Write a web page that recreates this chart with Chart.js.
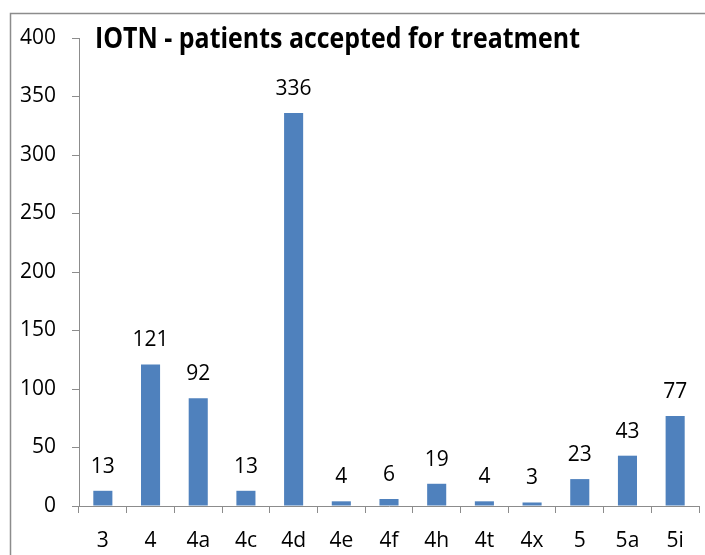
<!DOCTYPE html>
<html>
<head>
<meta charset="utf-8">
<script src="https://cdn.jsdelivr.net/npm/chart.js@4"></script>
<style>
  html, body { margin: 0; padding: 0; background: #fff; }
  #wrap { width: 705px; height: 555px; }
</style>
</head>
<body>
<div id="wrap"><canvas id="canvas" width="705" height="555"></canvas></div>
<script>
var categories = ['3', '4', '4a', '4c', '4d', '4e', '4f', '4h', '4t', '4x', '5', '5a', '5i'];
var patients = [13, 121, 92, 13, 336, 4, 6, 19, 4, 3, 23, 43, 77];
var yTicks = [0, 50, 100, 150, 200, 250, 300, 350, 400];
var chartTitle = 'IOTN - patients accepted for treatment';

// frame + title + value labels
var extras = {
  id: 'extras',
  beforeDraw: function(chart) {
    var ctx = chart.ctx;
    ctx.save();
    ctx.strokeStyle = '#8c8c8c';
    ctx.lineWidth = 1.5;
    ctx.beginPath();
    ctx.moveTo(10.5, 555);
    ctx.lineTo(10.5, 13.5);
    ctx.lineTo(705, 13.5);
    ctx.stroke();
    ctx.restore();
  },
  afterDraw: function(chart) {
    var ctx = chart.ctx;
    ctx.save();
    ctx.fillStyle = '#000';
    ctx.font = 'bold 29px "Open Sans"';
    ctx.textBaseline = 'alphabetic';
    var w = ctx.measureText(chartTitle).width;
    ctx.translate(95, 48);
    ctx.scale(485 / w, 1);
    ctx.fillText(chartTitle, 0, 0);
    ctx.restore();

    ctx.save();
    ctx.font = '21px "Open Sans"';
    ctx.fillStyle = '#000';
    ctx.textAlign = 'center';
    ctx.textBaseline = 'middle';
    var meta = chart.getDatasetMeta(0);
    meta.data.forEach(function(bar, i) {
      ctx.fillText(patients[i], bar.x, bar.y - 24);
    });
    ctx.restore();
  }
};

var config = {
  type: 'bar',
  data: {
    labels: categories,
    datasets: [{
      data: patients,
      backgroundColor: '#4f81bd',
      borderWidth: 0,
      barPercentage: 0.4,
      categoryPercentage: 1
    }]
  },
  options: {
    responsive: false,
    animation: false,
    layout: { padding: { top: 38, right: 6, left: 0, bottom: 0 } },
    plugins: {
      legend: { display: false },
      title: { display: false },
      tooltip: { enabled: false }
    },
    scales: {
      x: {
        grid: { drawOnChartArea: false, drawTicks: true, tickLength: 7, color: '#8c8c8c', offset: true },
        border: { color: '#8c8c8c', width: 1 },
        ticks: { color: '#000', font: { family: 'Open Sans', size: 21 }, padding: 15, maxRotation: 0 },
        afterFit: function(s) { s.height = 49; }
      },
      y: {
        min: 0,
        max: 400,
        afterBuildTicks: function(s) { s.ticks = yTicks.map(function(v) { return { value: v }; }); },
        grid: { drawOnChartArea: false, drawTicks: true, tickLength: 7, color: '#8c8c8c' },
        border: { color: '#8c8c8c', width: 1 },
        ticks: { color: '#000', font: { family: 'Open Sans', size: 21 }, padding: 16 },
        afterFit: function(s) { s.width = 79; }
      }
    }
  },
  plugins: [extras]
};

window.onload = function() {
  var ctx = document.getElementById('canvas').getContext('2d');
  window.myBar = new Chart(ctx, config);
};
</script>
</body>
</html>
